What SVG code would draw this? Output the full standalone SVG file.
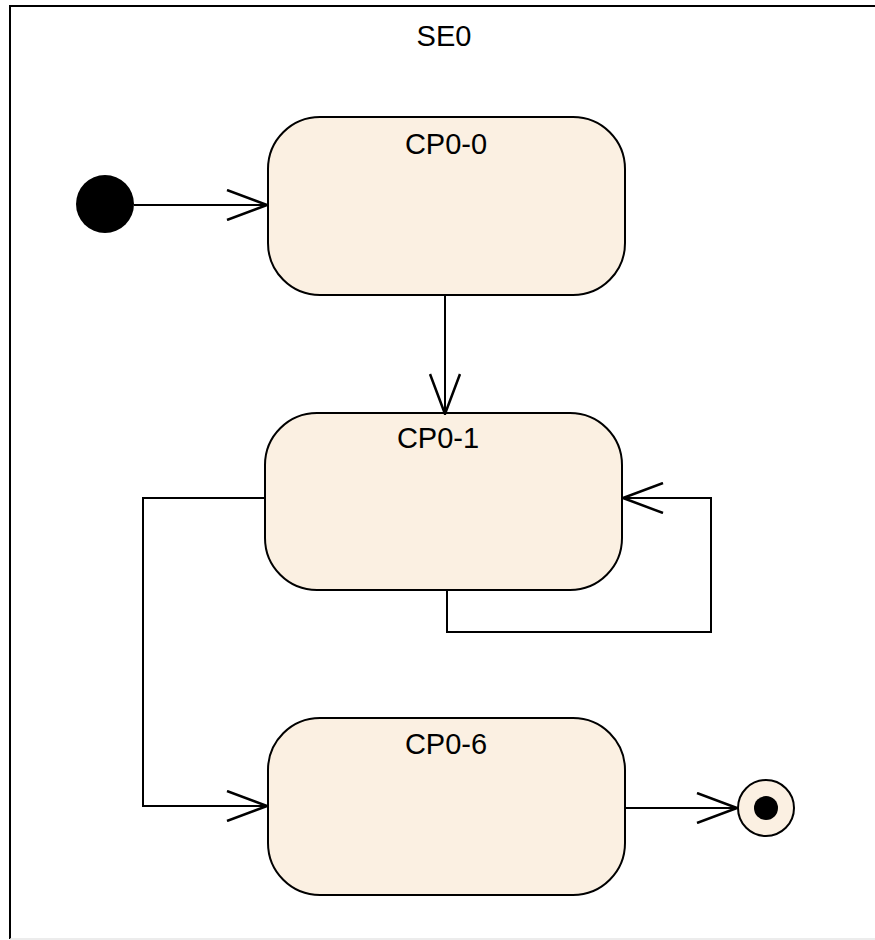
<svg xmlns="http://www.w3.org/2000/svg" width="875" height="940" viewBox="0 0 875 940">
<defs>
<style>
.frame{fill:none;stroke:#000;stroke-width:2}
.state{fill:#fbf0e2;stroke:#000;stroke-width:2}
.lbl{font-family:"Liberation Sans",Arial,sans-serif;font-size:29px;fill:#000;text-anchor:middle}
.conn{fill:none;stroke:#000;stroke-width:2}
</style>
<marker id="open" viewBox="0 0 42 32" refX="41" refY="16" markerWidth="42" markerHeight="32" markerUnits="userSpaceOnUse" orient="auto">
<path d="M1,1 L41,16 L1,31" fill="none" stroke="#000" stroke-width="2.5"/>
</marker>
</defs>
<rect width="875" height="940" fill="#fff"/>
<g id="SE0">
<path class="frame" d="M880,6 H10 V939"/>
<path d="M10,939 H880" fill="none" stroke="#e6e6e6" stroke-width="1.5"/>
<text class="lbl" x="444" y="46">SE0</text>
</g>
<g id="initial"><circle cx="105" cy="204" r="29" fill="#000"/></g>
<g id="CP0-0">
<rect class="state" x="268" y="117" width="357" height="178" rx="52" ry="52"/>
<text class="lbl" x="446" y="154">CP0-0</text>
</g>
<g id="CP0-1">
<rect class="state" x="265" y="413" width="357" height="177" rx="52" ry="52"/>
<text class="lbl" x="438" y="448">CP0-1</text>
</g>
<g id="CP0-6">
<rect class="state" x="268" y="718" width="357" height="177" rx="52" ry="52"/>
<text class="lbl" x="446" y="754">CP0-6</text>
</g>
<g id="final">
<circle cx="766" cy="808" r="28" fill="#fbf0e2" stroke="#000" stroke-width="2"/>
<circle cx="766" cy="808" r="12" fill="#000"/>
</g>
<g id="connectors">
<path class="conn" d="M134,205 H267" marker-end="url(#open)"/>
<path class="conn" d="M445,295 V414" marker-end="url(#open)"/>
<path class="conn" d="M447,590 V632 H711 V498 H623" marker-end="url(#open)"/>
<path class="conn" d="M265,498 H143 V806 H267" marker-end="url(#open)"/>
<path class="conn" d="M625,808 H737" marker-end="url(#open)"/>
</g>
</svg>
